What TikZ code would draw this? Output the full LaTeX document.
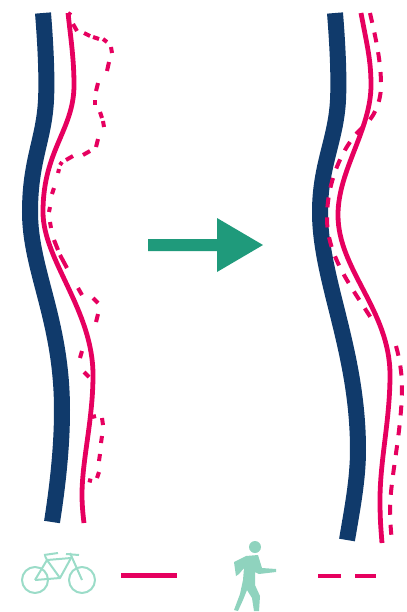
\documentclass[tikz,border=0pt]{standalone}
\definecolor{navyroad}{HTML}{103A6B}
\definecolor{pinkpath}{HTML}{E6005F}
\definecolor{teala}{HTML}{1F9A7B}
\definecolor{tealb}{HTML}{9BDCC8}
\definecolor{tealc}{HTML}{8FD3BE}
\tikzset{
  road/.style={draw=navyroad,line width=12pt},
  solidpath/.style={draw=pinkpath,line width=3.6pt},
  dashpiece/.style={draw=pinkpath,line width=3pt},
  dashpath/.style={draw=pinkpath,line width=3pt,dash pattern=on 7.5pt off 7.5pt},
  bikeline/.style={draw=tealb,line width=1.5pt,line join=round}
}
\begin{document}
\begin{tikzpicture}[x=0.75pt,y=-0.75pt]
\useasboundingbox (0,0) rectangle (407,612);
% left
\draw[road] (43,13) .. controls (46,50) and (47,80) .. (46,100) .. controls (44,140) and (30,160) .. (30,212) .. controls (30,270) and (62,320) .. (62,410) .. controls (62,450) and (57,490) .. (52,522);
\draw[solidpath] (68,13) .. controls (71,40) and (74,60) .. (74,85) .. controls (74,130) and (43,150) .. (43,212) .. controls (43,260) and (93,310) .. (93,375) .. controls (93,420) and (82,460) .. (82,495) .. controls (82,505) and (83,515) .. (84,523);
\foreach \xa/\ya/\xb/\yb in {68/13/71/15,73/24/77/31,84/33/90/36,93/37/99/39,103/39/107/42,111/47/112/53,109/62/107/71,98/83/96/91,95/100/95/105,100/112/102/118,103/121/104/127,98/139/96/147,90/151/83/155,73/156/66/160,62/162/60/165,59/169/58/173,54/188/52/194,50/207/49/212,50/222/51/228,54/240/58/250,60/255/67/268,78/288/82/295,93/298/98/303,98/314/96/322,82/351/80/358,84/372/89/377,92/417/96/416,102/418/103/425,102/436/101/443,100/454/99/461,99/472/97/478,92/481/88/480}
  \draw[dashpiece] (\xa,\ya) -- (\xb,\yb);
% right
\draw[road] (335,13) .. controls (338,50) and (339,80) .. (338,100) .. controls (336,140) and (320,165) .. (320,212) .. controls (320,280) and (358,350) .. (358,450) .. controls (358,480) and (352,510) .. (347,540);
\draw[solidpath] (361,13) .. controls (367,45) and (371,60) .. (371,85) .. controls (371,130) and (338,170) .. (338,215) .. controls (338,270) and (390,310) .. (390,375) .. controls (390,420) and (380,460) .. (380,500) .. controls (380,520) and (381,530) .. (382,543);
\draw[dashpath] (370,13) .. controls (375,35) and (381,60) .. (381,85) .. controls (381,105) and (372,120) .. (362,128) .. controls (348,140) and (327,175) .. (327,218) .. controls (327,255) and (350,285) .. (371,318);
\draw[dashpath] (396,346) .. controls (400,360) and (402,375) .. (402,387) .. controls (402,430) and (390,480) .. (390,510) .. controls (390,520) and (391,532) .. (392,542);
% arrow
\fill[teala] (148,239) -- (217,239) -- (217,218) -- (263,245) -- (217,272) -- (217,251) -- (148,251) -- cycle;
% bicycle
\draw[bikeline] (35,580) circle (13);
\draw[bikeline] (82,580) circle (13);
\draw[bikeline] (35,580) -- (47,560) -- (60,578) -- (35,580);
\draw[bikeline] (47,560) -- (71,558) -- (60,578);
\draw[bikeline] (70,553) -- (82,580);
\draw[bikeline] (44,555) -- (58,553);
\draw[bikeline] (45,556) -- (47,560);
\draw[bikeline] (66,554) -- (79,555);
% legend lines
\draw[draw=pinkpath,line width=4pt] (121,575.5) -- (177,575.5);
\draw[draw=pinkpath,line width=3.6pt] (318,576) -- (341,576);
\draw[draw=pinkpath,line width=3.6pt] (355,576) -- (376,576);
% walker
\fill[tealc] (255,547) circle (6);
\fill[tealc] (246,556) -- (258,555) -- (262,568) -- (276,569) -- (276,572) -- (259,574) -- (255,572) -- (255,585) -- (260,596) -- (259,611) -- (254,611) -- (252,598) -- (247,590) -- (243,600) -- (238,611) -- (234,610) -- (240,594) -- (243,580) -- (244,568) -- (239,574) -- (236,576) -- (234,562) -- cycle;
\end{tikzpicture}
\end{document}
